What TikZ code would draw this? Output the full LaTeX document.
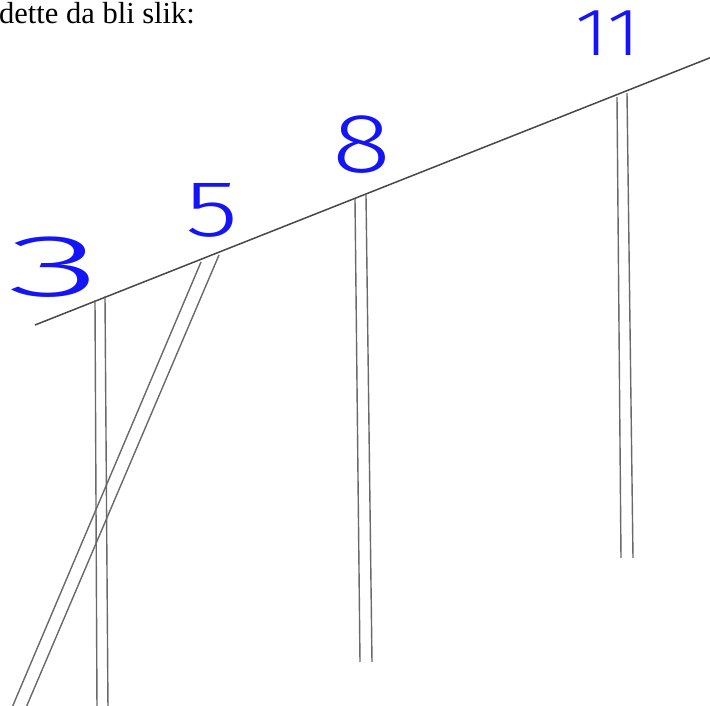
\documentclass[tikz,border=0pt]{standalone}
\usepackage{fontspec}
\setmainfont{Liberation Serif}
\newfontfamily\handfont{Fira Sans Light}
\definecolor{hand}{RGB}{20,20,245}
\definecolor{wire}{RGB}{105,105,105}
\begin{document}
\begin{tikzpicture}[x=1pt,y=-1pt,
  wireline/.style={draw=wire,line width=1.4pt},
  mainline/.style={draw=black!72,line width=1.5pt},
  digit/.style={text=hand,inner sep=0pt,font=\handfont\fontsize{84}{84}\selectfont},
  caption/.style={inner sep=0pt,anchor=base west,font=\fontsize{30.5}{36}\selectfont}]
\useasboundingbox (0,0) rectangle (710,706);
\clip (0,0) rectangle (710,706);
\node[caption] (cap) at (-1,24) {dette da bli slik:};
% main line
\coordinate (mL) at (35,325);
\coordinate (mR) at (712,57);
\draw[mainline] (mL) -- (mR);
% pole 3
\coordinate (a1t) at (95,300); \coordinate (a1b) at (97,710);
\coordinate (a2t) at (105,296); \coordinate (a2b) at (108,710);
% pole 5
\coordinate (b1t) at (201,262); \coordinate (b1b) at (11,710);
\coordinate (b2t) at (219,255); \coordinate (b2b) at (25,710);
% pole 8
\coordinate (c1t) at (355,199); \coordinate (c1b) at (360,662);
\coordinate (c2t) at (366,195); \coordinate (c2b) at (372,662);
% pole 11
\coordinate (d1t) at (617,97); \coordinate (d1b) at (621,558);
\coordinate (d2t) at (627,93); \coordinate (d2b) at (633,558);
\foreach \p in {a1,a2,b1,b2,c1,c2,d1,d2}{\draw[wireline] (\p t) -- (\p b);}
% labels
\node[digit,xscale=2.3,yscale=1.05] (n3) at (54,267) {3};
\node[digit,xscale=1.3,yscale=0.95] (n5) at (212,210) {5};
\node[digit,xscale=1.3,yscale=1.0] (n8) at (362,145) {8};
\node[digit,xscale=0.95,yscale=0.8] (n11) at (608,33) {11};
\end{tikzpicture}
\end{document}
